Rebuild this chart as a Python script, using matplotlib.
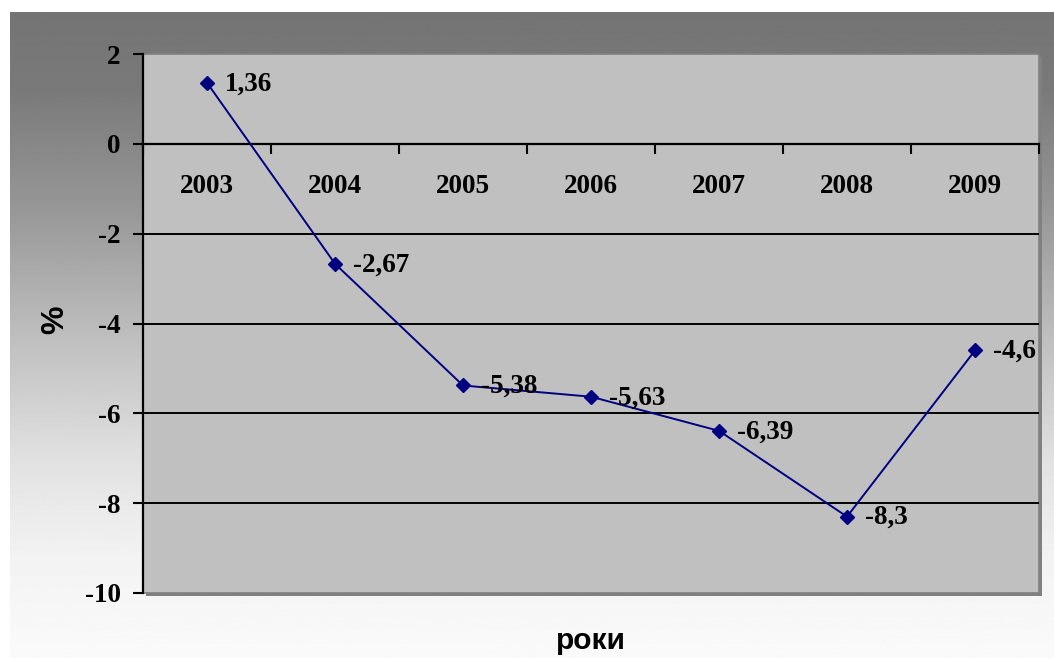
import numpy as np
import matplotlib
matplotlib.use("Agg")
import matplotlib.pyplot as plt
from matplotlib.patches import Rectangle

# Data
years = ["2003", "2004", "2005", "2006", "2007", "2008", "2009"]
values = [1.36, -2.67, -5.38, -5.63, -6.39, -8.3, -4.6]
y_ticks = [-10, -8, -6, -4, -2, 0, 2]

W, H = 1054, 658
fig = plt.figure(figsize=(W / 100, H / 100), dpi=100, facecolor="white")

# Chart-area gradient background (dark grey at the top fading to near white)
bg = fig.add_axes([10 / W, 0, (W - 10) / W, (H - 12) / H], zorder=-5)
t = np.linspace(0, 1, 400)
stops_t = [0.0, 0.12, 0.3, 0.5, 0.7, 0.85, 1.0]
stops_v = [116, 122, 150, 190, 226, 243, 250]
grad = np.interp(t, stops_t, stops_v)[:, None]
bg.imshow(grad, aspect="auto", cmap="gray", vmin=0, vmax=255,
          extent=[0, 1, 0, 1], origin="upper")
bg.set_axis_off()

# Plot area
x0, x1, ytop, ybot = 143, 1039, 54, 593
ax = fig.add_axes([x0 / W, (H - ybot) / H, (x1 - x0) / W, (ybot - ytop) / H])
ax.set_facecolor("#C0C0C0")

# Drop shadow behind the plot area
shadow = Rectangle((x0 + 3, H - ybot - 3), x1 - x0, ybot - ytop,
                   transform=None, facecolor="#808080", edgecolor="none",
                   zorder=-1)
fig.add_artist(shadow)

n = len(years)
xpos = np.arange(n) + 0.5
ax.set_xlim(0, n)
ax.set_ylim(min(y_ticks), max(y_ticks))

# Horizontal gridlines
for v in y_ticks[1:-1]:
    ax.axhline(v, color="black", lw=1.4, zorder=1)

# Border of the plot area
ax.add_patch(Rectangle((0, 0), 1, 1, transform=ax.transAxes, fill=False,
                       edgecolor="#808080", lw=1.2, zorder=0.5, clip_on=False))

for side in ("top", "right"):
    ax.spines[side].set_visible(False)
ax.spines["left"].set_color("black")
ax.spines["left"].set_linewidth(1.6)
ax.spines["bottom"].set_position(("data", 0))
ax.spines["bottom"].set_color("black")
ax.spines["bottom"].set_linewidth(1.6)

FS = 19.5
serif_bold = dict(family="Liberation Serif", weight="bold")

# Y axis
ax.set_yticks(y_ticks)
ax.set_yticklabels([str(v) for v in y_ticks], fontdict=dict(size=FS, **serif_bold))
ax.tick_params(axis="y", direction="out", length=7, width=1.5, pad=9, colors="black")

# X axis: tick marks at category boundaries, labels at category centres
ax.set_xticks(np.arange(n + 1))
ax.set_xticklabels([""] * (n + 1))
ax.tick_params(axis="x", which="major", direction="out", length=7, width=1.5)
ax.set_xticks(xpos, minor=True)
ax.set_xticklabels(years, minor=True, fontdict=dict(size=FS, **serif_bold))
ax.tick_params(axis="x", which="minor", length=0, pad=22)

# Series
ax.plot(xpos, values, color="#000080", lw=1.4, marker="D", ms=7,
        markerfacecolor="#000080", markeredgecolor="#000080", zorder=3,
        clip_on=False)

# Value labels
for x, v in zip(xpos, values):
    lbl = f"{v:g}".replace(".", ",")
    ax.annotate(lbl, (x, v), xytext=(18, -1), textcoords="offset pixels",
                ha="left", va="center", fontsize=FS, color="black",
                zorder=4, **serif_bold)

# Axis titles
fig.text(55 / W, 1 - 320 / H, "%", rotation=90, ha="center", va="center",
         family="Liberation Sans", weight="bold", fontsize=23)
fig.text(591 / W, 1 - 641 / H, "роки", ha="center", va="center",
         family="Liberation Sans", weight="bold", fontsize=21.5)

fig.savefig("out.png", dpi=100, facecolor="white")
